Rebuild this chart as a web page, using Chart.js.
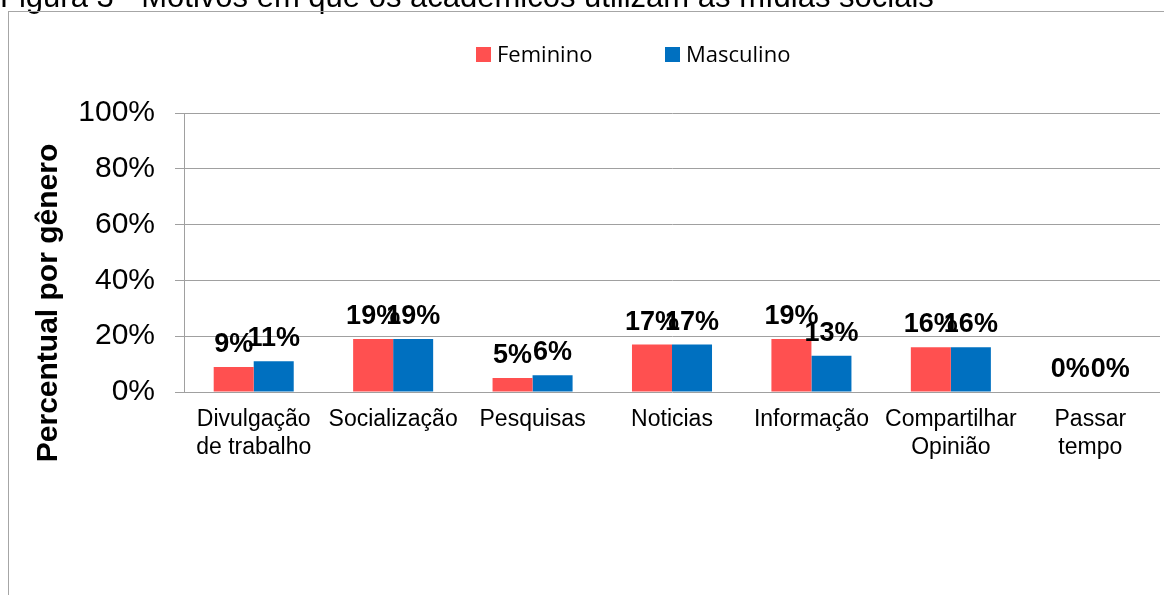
<!DOCTYPE html>
<html lang="pt">
<head>
<meta charset="utf-8">
<title>Figura 3</title>
<script src="https://cdn.jsdelivr.net/npm/chart.js@4.4.1/dist/chart.umd.min.js"></script>
<style>
  html, body { margin: 0; padding: 0; background: #fff; overflow: hidden; }
  #wrap { position: relative; width: 1164px; height: 595px; }
</style>
</head>
<body>
<div id="wrap"><canvas id="chart" width="1164" height="595"></canvas></div>
<script>
const titleText = 'Figura 3 - Motivos em que os acadêmicos utilizam as mídias sociais';
const yAxisTitle = 'Percentual por gênero';
const categories = [
  ['Divulgação', 'de trabalho'],
  'Socialização',
  'Pesquisas',
  'Noticias',
  'Informação',
  ['Compartilhar', 'Opinião'],
  ['Passar', 'tempo'],
];
const seriesNames = ['Feminino', 'Masculino'];
const feminino = [9, 19, 5, 17, 19, 16, 0];
const masculino = [11, 19, 6, 17, 13, 16, 0];
const yTicks = [0, 20, 40, 60, 80, 100];

const ARIAL = "'Liberation Sans', Arial, sans-serif";
const RED = '#FF5050';
const BLUE = '#0070C0';
const GRID = '#a0a0a0';

// title above the frame + the frame itself (cut off by the window)
const framePlugin = {
  id: 'frame',
  beforeDraw(chart) {
    const { ctx } = chart;
    ctx.save();
    ctx.fillStyle = '#fff';
    ctx.fillRect(0, 0, chart.width, chart.height);
    ctx.fillStyle = '#000';
    ctx.font = `31px ${ARIAL}`;
    ctx.textAlign = 'left';
    ctx.textBaseline = 'alphabetic';
    ctx.fillText(titleText, 0, 7);
    ctx.strokeStyle = '#a6a6a6';
    ctx.lineWidth = 1;
    ctx.strokeRect(8.5, 11.5, chart.width + 20, chart.height + 20);
    ctx.restore();
  },
};

// legend in the Excel style: fixed spots, square markers
const legendPlugin = {
  id: 'excelLegend',
  afterDraw(chart) {
    const { ctx } = chart;
    const spots = [476, 665];
    ctx.save();
    ctx.font = "22px 'Open Sans', sans-serif";
    ctx.textBaseline = 'alphabetic';
    ctx.textAlign = 'left';
    chart.data.datasets.forEach((ds, i) => {
      const x = spots[i];
      ctx.fillStyle = ds.backgroundColor;
      ctx.fillRect(x, 47, 15, 15);
      ctx.fillStyle = '#000';
      ctx.fillText(ds.label, x + 21, 62);
    });
    ctx.restore();
  },
};

const yTitlePlugin = {
  id: 'yTitle',
  afterDraw(chart) {
    const { ctx } = chart;
    ctx.save();
    ctx.translate(57, 303);
    ctx.rotate(-Math.PI / 2);
    ctx.font = `bold 30px ${ARIAL}`;
    ctx.fillStyle = '#000';
    ctx.textAlign = 'center';
    ctx.textBaseline = 'alphabetic';
    ctx.fillText(yAxisTitle, 0, 0);
    ctx.restore();
  },
};

const barLabelPlugin = {
  id: 'barLabels',
  afterDatasetsDraw(chart) {
    const { ctx } = chart;
    ctx.save();
    ctx.font = `bold 27px ${ARIAL}`;
    ctx.fillStyle = '#000';
    ctx.textAlign = 'center';
    ctx.textBaseline = 'alphabetic';
    chart.data.datasets.forEach((ds, i) => {
      chart.getDatasetMeta(i).data.forEach((bar, j) => {
        ctx.fillText(ds.data[j] + '%', bar.x, bar.y - 15);
      });
    });
    ctx.restore();
  },
};

new Chart(document.getElementById('chart'), {
  type: 'bar',
  data: {
    labels: categories,
    datasets: [
      { label: seriesNames[0], data: feminino, backgroundColor: RED },
      { label: seriesNames[1], data: masculino, backgroundColor: BLUE },
    ],
  },
  options: {
    responsive: false,
    animation: false,
    devicePixelRatio: 1,
    layout: { padding: { top: 113, left: 0, right: 4, bottom: 0 } },
    datasets: {
      bar: { categoryPercentage: 0.574, barPercentage: 1, borderWidth: 0 },
    },
    plugins: {
      legend: { display: false },
      tooltip: { enabled: false },
    },
    scales: {
      x: {
        grid: { display: false, drawTicks: false },
        border: { display: false },
        ticks: {
          color: '#000',
          padding: 14,
          maxRotation: 0,
          autoSkip: false,
          font: { family: ARIAL, size: 23, lineHeight: 1.2 },
        },
        afterFit(scale) { scale.height = 203; },
      },
      y: {
        min: yTicks[0],
        max: yTicks[yTicks.length - 1],
        grid: { color: GRID, tickLength: 9, tickColor: GRID },
        border: { color: GRID },
        ticks: {
          stepSize: yTicks[1] - yTicks[0],
          color: '#000',
          padding: 20,
          font: { family: ARIAL, size: 30 },
          callback: (v) => v + '%',
        },
        afterFit(scale) { scale.width = 184; },
      },
    },
  },
  plugins: [framePlugin, legendPlugin, yTitlePlugin, barLabelPlugin],
});
</script>
</body>
</html>
